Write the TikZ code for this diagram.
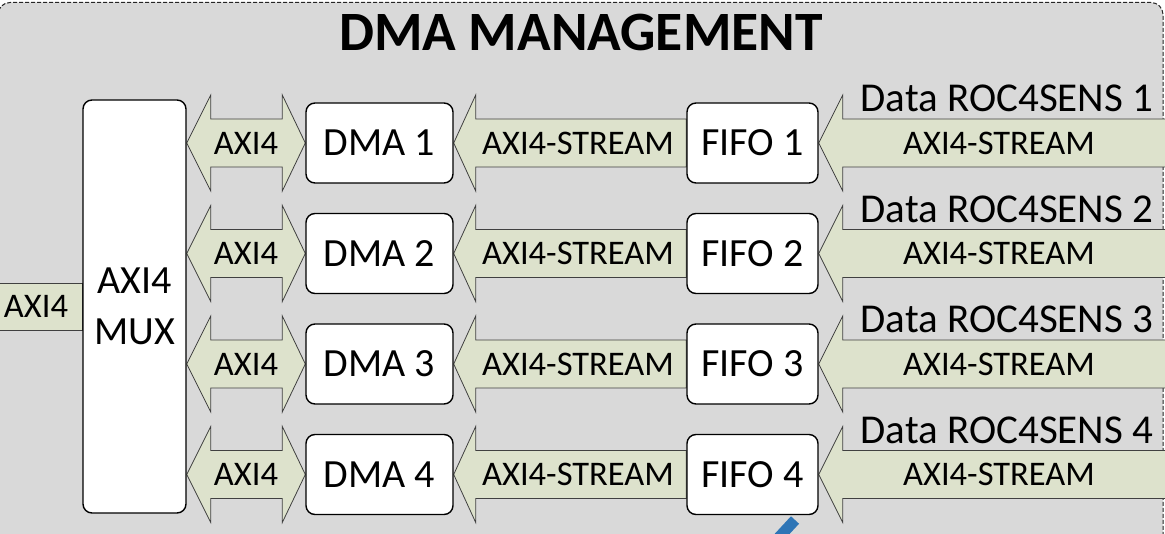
\documentclass[tikz,border=0pt]{standalone}
\usepackage{fontspec}
\setmainfont{Carlito}
\usetikzlibrary{calc}
\definecolor{panelgray}{RGB}{217,217,217}
\definecolor{busgreen}{RGB}{221,226,204}
\definecolor{linkblue}{RGB}{46,117,182}
\pgfdeclarelayer{bg}
\pgfsetlayers{bg,main}

\begin{document}
\begin{tikzpicture}[x=1pt,y=-1pt,
  block/.style={draw, line width=1.4pt, fill=white, rounded corners=9pt,
    inner sep=0pt, font=\fontsize{40}{44}\selectfont},
  band/.style={draw=black!75, line width=0.8pt, fill=busgreen, line join=miter},
  lbl/.style={inner sep=0pt, font=\fontsize{34.5}{38}\selectfont},
  srclbl/.style={inner sep=0pt, anchor=base, font=\fontsize{41}{46}\selectfont},
]
\clip (0,0) rectangle (1165,534);
\useasboundingbox (0,0) rectangle (1165,534);

% title
\node[anchor=base, inner sep=0pt, font=\bfseries\fontsize{55.5}{60}\selectfont]
  (title) at (581,51) {DMA MANAGEMENT};

% multiplexer block
\node[block, minimum width=103pt, minimum height=413pt, align=center,
  font=\fontsize{40}{51}\selectfont] (mux) at (134.5,306.5) {AXI4\\MUX};
\coordinate (hostbus) at (-5,306.5);

% DMA and FIFO blocks per channel
\foreach \i/\r in {1/143,2/253.5,3/364,4/474.5}{
  \node[block, minimum width=147pt, minimum height=80pt] (dma\i) at (379.5,\r) {DMA \i};
  \node[block, minimum width=131pt, minimum height=80pt] (fifo\i) at (752.5,\r) {FIFO \i};
  \coordinate (src\i) at (1175,\r);
}

\begin{pgfonlayer}{bg}
  % enclosing panel
  \draw[black!85, line width=1pt, dash pattern=on 4pt off 2pt, fill=panelgray,
    rounded corners=12pt] (-2,2.5) rectangle (1163,580);
  % link leaving the panel below FIFO 4
  \draw[linkblue, line width=11pt] (795,520) -- (770,547);
  % host-side AXI4 bus into the multiplexer
  \draw[band] ($(hostbus)+(0,-23.5)$) rectangle ($(mux.west)+(0,23.5)$);
  \foreach \i in {1,...,4}{
    % bidirectional AXI4 between MUX and DMA
    \draw[band] (mux.east |- dma\i.west) -- ++(24,-48) -- ++(0,24)
      -- ($(dma\i.west)+(-23,-24)$) -- ++(0,-24) -- (dma\i.west) -- ++(-23,48)
      -- ++(0,-24) -- ($(mux.east |- dma\i.west)+(24,24)$) -- ++(0,24) -- cycle;
    % AXI4-STREAM from FIFO to DMA
    \draw[band] (dma\i.east) -- ++(22,-48) -- ++(0,24)
      -- ($(fifo\i.west)+(0,-24)$) -- ++(0,48)
      -- ($(dma\i.east)+(22,24)$) -- ++(0,24) -- cycle;
    % incoming sensor data stream
    \draw[band] (fifo\i.east) -- ++(24,-48) -- ++(0,24)
      -- ($(src\i)+(0,-24)$) -- ++(0,48)
      -- ($(fifo\i.east)+(24,24)$) -- ++(0,24) -- cycle;
  }
\end{pgfonlayer}

% bus labels
\node[lbl] (hostlbl) at (36,306.5) {AXI4};
\foreach \i/\r in {1/143,2/253.5,3/364,4/474.5}{
  \node[lbl] (axi\i) at ($(mux.east |- dma\i.west)!0.5!(dma\i.west)$) {AXI4};
  \node[lbl] (strm\i) at (578,\r) {AXI4-STREAM};
  \node[lbl] (instrm\i) at (999,\r) {AXI4-STREAM};
  \node[srclbl] (srclbl\i) at (1007,\r-31) {Data ROC4SENS \i};
}
\end{tikzpicture}
\end{document}
